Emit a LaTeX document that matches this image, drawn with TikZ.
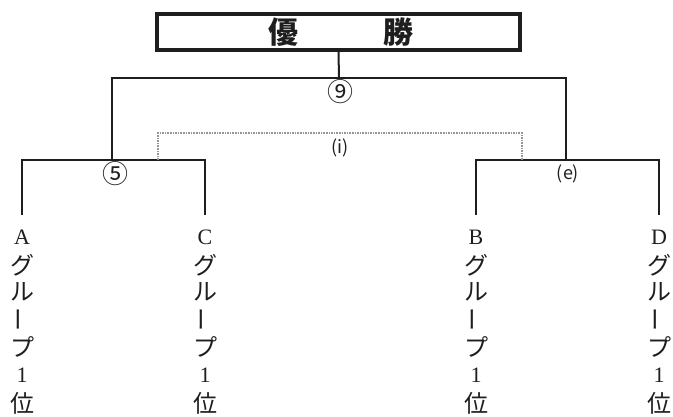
\documentclass[tikz,border=0pt]{standalone}
\usepackage{fontspec}
\setmainfont{Liberation Serif}
\newfontfamily\jp{Noto Sans CJK JP}
\definecolor{ink}{RGB}{30,30,30}
\definecolor{dotgray}{RGB}{150,150,150}
\begin{document}
\begin{tikzpicture}[x=1pt,y=-1pt,
  line/.style={draw=ink,line width=2pt},
  winbox/.style={draw=ink,line width=3.8pt,minimum width=363pt,minimum height=36pt,inner sep=0pt},
  wintext/.style={inner sep=0pt,text=ink,font=\jp\bfseries\fontsize{30}{30}\selectfont},
  circnum/.style={inner sep=0pt,text=ink,font=\jp\fontsize{26}{26}\selectfont},
  paren/.style={inner sep=0pt,text=ink,font=\jp\fontsize{18}{18}\selectfont},
  jpc/.style={inner sep=0pt,text=ink,font=\jp\fontsize{24}{24}\selectfont},
  lat/.style={inner sep=0pt,text=ink,font=\fontsize{22}{22}\selectfont},
  dotline/.style={draw=dotgray,line width=1.6pt,densely dotted}]
\useasboundingbox (0,0) rectangle (673,417);
% top box
\node[winbox] (win) at (338.5,32) {};
\node[wintext] (yu) at (283,32) {優};
\node[wintext] (sho) at (398,32) {勝};
% bracket joints
\coordinate (t9) at (339,78);
\coordinate (s5) at (112,160);
\coordinate (se) at (566,160);
\coordinate (dl) at (158,160);
\coordinate (dm) at (340,133);
\coordinate (dr) at (522,160);
% labels
\node[circnum] (m9) at (340,92) {⑨};
\node[circnum] (m5) at (115,174) {⑤};
\node[paren] (mi) at (340,148) {(i)};
\node[paren] (me) at (568,174) {(e)};
% columns
\foreach \c/\x/\L in {A/22/A, C/205/C, B/476/B, D/659/D} {
  \coordinate (\c0) at (\x,215);
  \node[lat] (\c1) at (\x,237) {\L};
  \node[jpc] (\c2) at (\x,265) {グ};
  \node[jpc] (\c3) at (\x,292) {ル};
  \node[jpc,rotate=90] (\c4) at (\x,319) {ー};
  \node[jpc] (\c5) at (\x,347) {プ};
  \node[lat] (\c6) at (\x,375) {1};
  \node[jpc] (\c7) at (\x,403) {位};
}
% connectors
\draw[line] (win.south) -- (t9);
\draw[line] (s5) |- (t9) -| (se);
\draw[line] (A0) |- (s5) -| (C0);
\draw[line] (B0) |- (se) -| (D0);
\draw[dotline] (dl) |- (dm) -| (dr);
\end{tikzpicture}
\end{document}
